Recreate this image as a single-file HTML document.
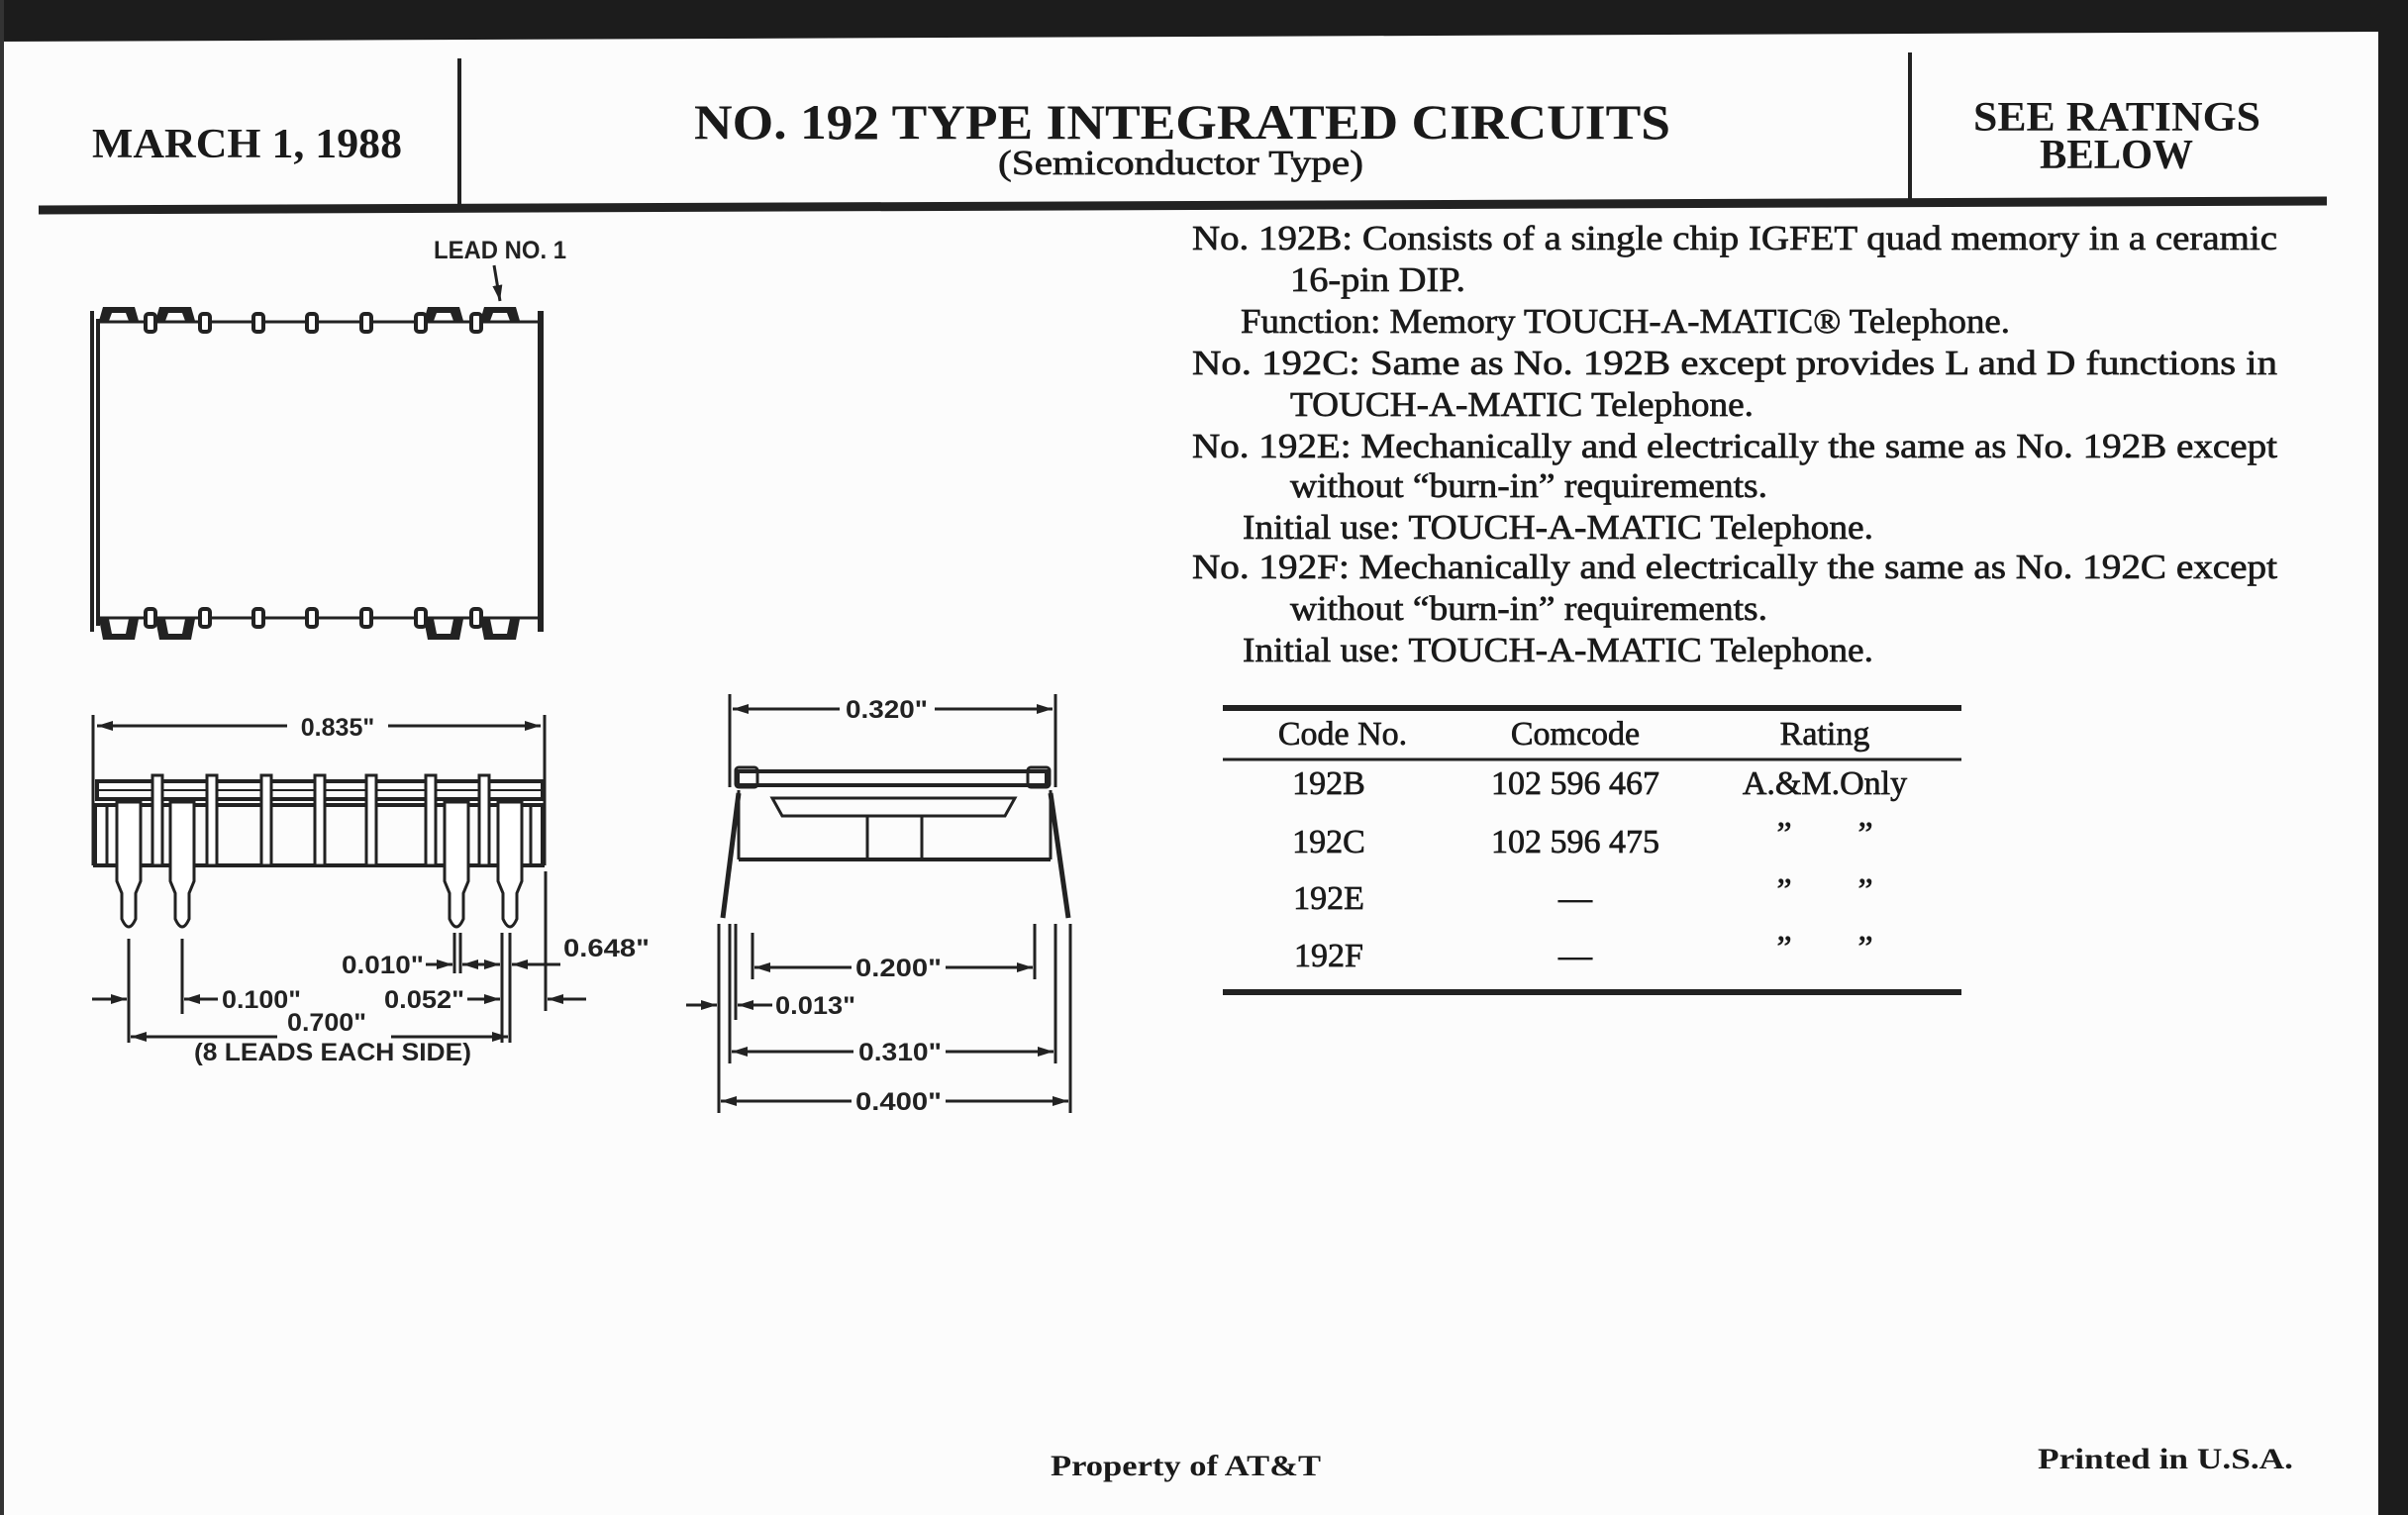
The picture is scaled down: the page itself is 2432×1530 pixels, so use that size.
<!DOCTYPE html>
<html><head><meta charset="utf-8"><style>
html,body{margin:0;padding:0;background:#fff;}
svg{display:block;}
.s{font-family:"Liberation Serif",serif;fill:#1a1a1a;}
.b{stroke:#1a1a1a;stroke-width:0.7;}
.d{font-family:"Liberation Sans",sans-serif;font-weight:bold;fill:#222;font-size:25px;}
</style></head><body>
<svg width="2432" height="1530" viewBox="0 0 2432 1530" xmlns="http://www.w3.org/2000/svg">
<defs>
<marker id="a" viewBox="0 0 16 10" refX="16" refY="5" markerWidth="16" markerHeight="10" markerUnits="userSpaceOnUse" orient="auto-start-reverse"><path d="M0,0 L16,5 L0,10 Z" fill="#222"/></marker>
</defs>
<rect width="2432" height="1530" fill="#fcfcfc"/>
<polygon points="0,0 2432,0 2432,32 2404,32 0,42" fill="#1c1c1c"/>
<rect x="2402" y="0" width="30" height="1530" fill="#1c1c1c"/>
<rect x="0" y="0" width="4" height="1530" fill="#333"/>

<line x1="464" y1="59" x2="464" y2="210" stroke="#222" stroke-width="4"/>
<line x1="1929" y1="53" x2="1929" y2="203" stroke="#222" stroke-width="4"/>
<line x1="39" y1="212" x2="2350" y2="203" stroke="#222" stroke-width="9"/>
<text class="s" x="93" y="159" font-size="42" font-weight="bold" textLength="313" lengthAdjust="spacingAndGlyphs">MARCH 1, 1988</text>
<text class="s" x="701" y="140" font-size="50" font-weight="bold" textLength="986" lengthAdjust="spacingAndGlyphs">NO. 192 TYPE INTEGRATED CIRCUITS</text>
<text class="s b" x="1008" y="176" font-size="35" textLength="369" lengthAdjust="spacingAndGlyphs">(Semiconductor Type)</text>
<text class="s" x="1993" y="132" font-size="42" font-weight="bold" textLength="290" lengthAdjust="spacingAndGlyphs">SEE RATINGS</text>
<text class="s" x="2060" y="170" font-size="42" font-weight="bold" textLength="155" lengthAdjust="spacingAndGlyphs">BELOW</text>

<g class="s b" font-size="35">
<text x="1204" y="252" textLength="1096" lengthAdjust="spacingAndGlyphs">No. 192B: Consists of a single chip IGFET quad memory in a ceramic</text>
<text x="1303" y="294" textLength="177" lengthAdjust="spacingAndGlyphs">16-pin DIP.</text>
<text x="1253" y="336" textLength="777" lengthAdjust="spacingAndGlyphs">Function: Memory TOUCH-A-MATIC® Telephone.</text>
<text x="1204" y="378" textLength="1096" lengthAdjust="spacingAndGlyphs">No. 192C: Same as No. 192B except provides L and D functions in</text>
<text x="1303" y="420" textLength="468" lengthAdjust="spacingAndGlyphs">TOUCH-A-MATIC Telephone.</text>
<text x="1204" y="462" textLength="1096" lengthAdjust="spacingAndGlyphs">No. 192E: Mechanically and electrically the same as No. 192B except</text>
<text x="1303" y="502" textLength="482" lengthAdjust="spacingAndGlyphs">without “burn-in” requirements.</text>
<text x="1255" y="544" textLength="637" lengthAdjust="spacingAndGlyphs">Initial use: TOUCH-A-MATIC Telephone.</text>
<text x="1204" y="584" textLength="1096" lengthAdjust="spacingAndGlyphs">No. 192F: Mechanically and electrically the same as No. 192C except</text>
<text x="1303" y="626" textLength="482" lengthAdjust="spacingAndGlyphs">without “burn-in” requirements.</text>
<text x="1255" y="668" textLength="637" lengthAdjust="spacingAndGlyphs">Initial use: TOUCH-A-MATIC Telephone.</text>
</g>

<line x1="1235" y1="715" x2="1981" y2="715" stroke="#222" stroke-width="6"/>
<line x1="1235" y1="767" x2="1981" y2="767" stroke="#222" stroke-width="3"/>
<line x1="1235" y1="1002" x2="1981" y2="1002" stroke="#222" stroke-width="6"/>
<g class="s b" font-size="34" text-anchor="middle">
<text x="1356" y="752">Code No.</text>
<text x="1591" y="752">Comcode</text>
<text x="1843" y="752">Rating</text>
<text x="1342" y="802">192B</text><text x="1591" y="802">102 596 467</text><text x="1843" y="802">A.&amp;M.Only</text>
<text x="1342" y="861">192C</text><text x="1591" y="861">102 596 475</text><text x="1802" y="853">”</text><text x="1884" y="853">”</text>
<text x="1342" y="918">192E</text><text x="1591" y="918">—</text><text x="1802" y="910">”</text><text x="1884" y="910">”</text>
<text x="1342" y="976">192F</text><text x="1591" y="976">—</text><text x="1802" y="968">”</text><text x="1884" y="968">”</text>
</g>

<text class="s" x="1061" y="1490" font-size="30" font-weight="bold" textLength="273" lengthAdjust="spacingAndGlyphs">Property of AT&amp;T</text>
<text class="s" x="2058" y="1483" font-size="30" font-weight="bold" textLength="258" lengthAdjust="spacingAndGlyphs">Printed in U.S.A.</text>

<!-- TOP VIEW -->
<g stroke="#222" stroke-width="4" fill="none">
<line x1="93" y1="314" x2="93" y2="638"/>
<line x1="99" y1="322" x2="99" y2="632"/>
<line x1="546" y1="314" x2="546" y2="638" stroke-width="6"/>
<line x1="99" y1="325" x2="543" y2="325" stroke-width="3"/>
<line x1="99" y1="624" x2="543" y2="624" stroke-width="3"/>
</g>
<g fill="#fff" stroke="#222" stroke-width="4">
<rect x="147" y="317" width="10" height="18" rx="3"/><rect x="202" y="317" width="10" height="18" rx="3"/>
<rect x="256" y="317" width="10" height="18" rx="3"/><rect x="310" y="317" width="10" height="18" rx="3"/>
<rect x="365" y="317" width="10" height="18" rx="3"/><rect x="420" y="317" width="10" height="18" rx="3"/>
<rect x="476" y="317" width="10" height="18" rx="3"/>
<rect x="147" y="615" width="10" height="18" rx="3"/><rect x="202" y="615" width="10" height="18" rx="3"/>
<rect x="256" y="615" width="10" height="18" rx="3"/><rect x="310" y="615" width="10" height="18" rx="3"/>
<rect x="365" y="615" width="10" height="18" rx="3"/><rect x="420" y="615" width="10" height="18" rx="3"/>
<rect x="476" y="615" width="10" height="18" rx="3"/>
</g>
<g fill="#222">
<path d="M100,324 L104,310 L136,310 L140,324 L130,324 L127,316 L113,316 L110,324Z"/>
<path d="M157,324 L161,310 L193,310 L197,324 L187,324 L184,316 L170,316 L167,324Z"/>
<path d="M428,324 L432,310 L464,310 L468,324 L458,324 L455,316 L441,316 L438,324Z"/>
<path d="M485,324 L489,310 L521,310 L525,324 L515,324 L512,316 L498,316 L495,324Z"/>
<path d="M100,625 L104,646 L136,646 L140,625 L130,625 L127,640 L113,640 L110,625Z"/>
<path d="M157,625 L161,646 L193,646 L197,625 L187,625 L184,640 L170,640 L167,625Z"/>
<path d="M428,625 L432,646 L464,646 L468,625 L458,625 L455,640 L441,640 L438,625Z"/>
<path d="M485,625 L489,646 L521,646 L525,625 L515,625 L512,640 L498,640 L495,625Z"/>
</g>
<text class="d" x="438" y="261" font-size="24" textLength="134" lengthAdjust="spacingAndGlyphs">LEAD NO. 1</text>
<line x1="499" y1="268" x2="505" y2="304" stroke="#222" stroke-width="3" marker-end="url(#a)"/>

<!-- SIDE VIEW -->
<g stroke="#222" stroke-width="3" fill="none">
<line x1="94" y1="722" x2="94" y2="874"/>
<line x1="550" y1="722" x2="550" y2="874"/>
<line x1="98" y1="733" x2="546" y2="733" marker-start="url(#a)" marker-end="url(#a)"/>
<rect x="98" y="789" width="450" height="18" stroke-width="4"/>
<line x1="98" y1="798" x2="548" y2="798" stroke-width="2"/>
<rect x="96" y="813" width="452" height="61" stroke-width="4"/>
<line x1="108" y1="813" x2="108" y2="874"/><line x1="536" y1="813" x2="536" y2="874"/>
</g>
<g fill="#fff" stroke="#222" stroke-width="3">
<rect x="154" y="783" width="10" height="91"/><rect x="209" y="783" width="10" height="91"/>
<rect x="264" y="783" width="10" height="91"/><rect x="318" y="783" width="10" height="91"/>
<rect x="370" y="783" width="10" height="91"/><rect x="430" y="783" width="10" height="91"/>
<rect x="484" y="783" width="10" height="91"/>
<path d="M118,810 L142,810 L142,890 L137,902 L137,928 Q130,944 123,928 L123,902 L118,890Z"/>
<path d="M172,810 L196,810 L196,890 L191,902 L191,928 Q184,944 177,928 L177,902 L172,890Z"/>
<path d="M449,810 L473,810 L473,890 L468,902 L468,928 Q461,944 454,928 L454,902 L449,890Z"/>
<path d="M503,810 L527,810 L527,890 L522,902 L522,928 Q515,944 508,928 L508,902 L503,890Z"/>
</g>
<rect x="290" y="721" width="102" height="24" fill="#fcfcfc"/>
<text class="d" x="341" y="743" text-anchor="middle">0.835"</text>
<g stroke="#222" stroke-width="3" fill="none">
<line x1="130" y1="948" x2="130" y2="1053"/>
<line x1="184" y1="948" x2="184" y2="1024"/>
<line x1="459" y1="942" x2="459" y2="983"/><line x1="465" y1="942" x2="465" y2="983"/>
<line x1="507" y1="942" x2="507" y2="1053"/><line x1="515" y1="942" x2="515" y2="1053"/>
<line x1="551" y1="880" x2="551" y2="1021"/>
<line x1="93" y1="1009" x2="128" y2="1009" marker-end="url(#a)"/>
<line x1="220" y1="1009" x2="186" y2="1009" marker-end="url(#a)"/>
<line x1="472" y1="1009" x2="505" y2="1009" marker-end="url(#a)"/>
<line x1="592" y1="1009" x2="553" y2="1009" marker-end="url(#a)"/>
<line x1="430" y1="974" x2="457" y2="974" marker-end="url(#a)"/>
<line x1="490" y1="974" x2="467" y2="974" marker-end="url(#a)"/>
<line x1="483" y1="974" x2="505" y2="974" marker-end="url(#a)"/>
<line x1="566" y1="974" x2="517" y2="974" marker-end="url(#a)"/>
<line x1="132" y1="1047" x2="280" y2="1047" marker-start="url(#a)"/>
<line x1="395" y1="1047" x2="513" y2="1047" marker-end="url(#a)"/>
</g>
<text class="d" x="345" y="983" textLength="83" lengthAdjust="spacingAndGlyphs">0.010"</text>
<text class="d" x="569" y="966" textLength="87" lengthAdjust="spacingAndGlyphs">0.648"</text>
<text class="d" x="224" y="1018" textLength="80" lengthAdjust="spacingAndGlyphs">0.100"</text>
<text class="d" x="388" y="1018" textLength="81" lengthAdjust="spacingAndGlyphs">0.052"</text>
<text class="d" x="290" y="1041" textLength="80" lengthAdjust="spacingAndGlyphs">0.700"</text>
<text class="d" x="196" y="1071" font-size="23" textLength="280" lengthAdjust="spacingAndGlyphs">(8 LEADS EACH SIDE)</text>

<!-- END VIEW -->
<g stroke="#222" stroke-width="3" fill="none">
<line x1="737" y1="701" x2="737" y2="795"/><line x1="1066" y1="701" x2="1066" y2="795"/>
<line x1="740" y1="716" x2="1063" y2="716" marker-start="url(#a)" marker-end="url(#a)"/>
<rect x="745" y="779" width="312" height="14" stroke-width="4"/>
<rect x="743" y="775" width="22" height="20" rx="3"/><rect x="1038" y="775" width="22" height="20" rx="3"/>
<line x1="746" y1="798" x2="746" y2="868"/><line x1="1061" y1="798" x2="1061" y2="868"/>
<line x1="746" y1="868" x2="1061" y2="868" stroke-width="4"/>
<path d="M780,806 L1025,806 L1015,824 L790,824 Z" stroke-width="3"/>
<line x1="876" y1="824" x2="876" y2="866"/><line x1="931" y1="824" x2="931" y2="866"/>
<line x1="746" y1="801" x2="730" y2="927" stroke-width="5"/>
<line x1="1061" y1="801" x2="1079" y2="927" stroke-width="5"/>
<line x1="726" y1="933" x2="726" y2="1124"/>
<line x1="737" y1="933" x2="737" y2="1074"/>
<line x1="743" y1="933" x2="743" y2="1030"/>
<line x1="760" y1="942" x2="760" y2="989"/>
<line x1="1045" y1="933" x2="1045" y2="989"/>
<line x1="1066" y1="933" x2="1066" y2="1074"/>
<line x1="1081" y1="933" x2="1081" y2="1124"/>
<line x1="762" y1="977" x2="860" y2="977" marker-start="url(#a)"/>
<line x1="955" y1="977" x2="1043" y2="977" marker-end="url(#a)"/>
<line x1="693" y1="1015" x2="724" y2="1015" marker-end="url(#a)"/>
<line x1="780" y1="1015" x2="745" y2="1015" marker-end="url(#a)"/>
<line x1="739" y1="1062" x2="862" y2="1062" marker-start="url(#a)"/>
<line x1="955" y1="1062" x2="1064" y2="1062" marker-end="url(#a)"/>
<line x1="728" y1="1112" x2="860" y2="1112" marker-start="url(#a)"/>
<line x1="955" y1="1112" x2="1079" y2="1112" marker-end="url(#a)"/>
</g>
<rect x="848" y="704" width="96" height="24" fill="#fcfcfc"/>
<text class="d" x="854" y="725" textLength="83" lengthAdjust="spacingAndGlyphs">0.320"</text>
<text class="d" x="864" y="986" textLength="87" lengthAdjust="spacingAndGlyphs">0.200"</text>
<text class="d" x="783" y="1024" textLength="81" lengthAdjust="spacingAndGlyphs">0.013"</text>
<text class="d" x="867" y="1071" textLength="84" lengthAdjust="spacingAndGlyphs">0.310"</text>
<text class="d" x="864" y="1121" textLength="87" lengthAdjust="spacingAndGlyphs">0.400"</text>
</svg>
</body></html>
